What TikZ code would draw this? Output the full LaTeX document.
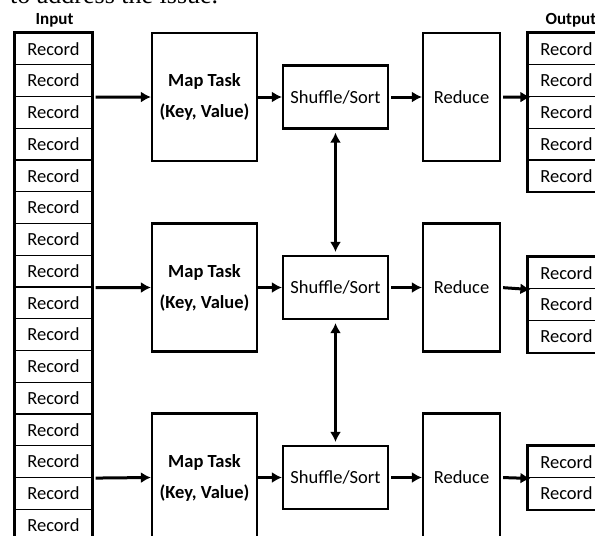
\documentclass[tikz,border=0pt]{standalone}
\usepackage{fontspec}
\setmainfont{Carlito}
\newfontfamily\pageserif{Liberation Serif}
\usepackage{tikz}
\usetikzlibrary{arrows.meta}
\usetikzlibrary{positioning}

\begin{document}
\begin{tikzpicture}[x=1pt,y=-1pt,>={Latex[length=10pt,width=11pt]},
	rec/.style={draw,line width=1.2pt,minimum width=77pt,minimum height=31.75pt,inner sep=0pt,font=\fontsize{18.5}{21}\selectfont},
	frame/.style={line width=2.2pt},
	box/.style={draw,line width=2.2pt,inner sep=0pt,align=center,font=\fontsize{18.5}{31}\selectfont},
	arr/.style={line width=3pt,->},
	varr/.style={line width=2.2pt,<->,shorten <=3pt,shorten >=3pt}]
		\useasboundingbox (0,0) rectangle (595,536);
		% page text cut by the screenshot
		\node[anchor=base west,inner sep=0pt,font=\pageserif\fontsize{26}{30}\selectfont] (pagetext) at (10,3) {to address the issue.};
		% input column
		\node[font=\bfseries\fontsize{17}{19}\selectfont] (inlabel) at (54.5,20) {Input};
		\foreach \i in {1,...,16}
			\node[rec] (in\i) at (53.5,{33+(\i-0.5)*31.75}) {Record};
		\draw[frame] (in1.north west) rectangle (in16.south east);
		% output columns
		\node[font=\bfseries\fontsize{17}{19}\selectfont,anchor=west] (outlabel) at (542,20) {Output};
		\foreach \g/\y/\n in {1/33/5,2/257/3,3/446/2}{
			\foreach \i in {1,...,\n}
				\node[rec] (out\g-\i) at (566.5,{\y+(\i-0.5)*31.75}) {Record};
			\draw[frame] (out\g-1.north west) rectangle (out\g-\n.south east);
		}
		% the three lanes
		\foreach \k/\y in {1/97,2/287.5,3/477.5}{
			\node[box,minimum width=105pt,minimum height=128pt] (map\k) at (204.5,\y) {\bfseries Map Task\\\bfseries (Key, Value)};
			\node[box,minimum width=105pt,minimum height=63pt] (shuf\k) at (335.5,\y) {Shuffle/Sort};
			\node[box,minimum width=77pt,minimum height=128pt] (red\k) at (461.5,\y) {Reduce};
			\draw[arr] (map\k.east)--(shuf\k.west);
			\draw[arr,shorten <=2pt] (shuf\k.east)--(red\k.west);
		}
		\foreach \k/\j in {1/2,2/8,3/14}
			\draw[arr,shorten <=3pt] (in\j.south east)--(map\k.west);
		\foreach \k/\j in {1/2,2/1,3/1}
			\draw[arr,shorten <=2pt,shorten >=-3pt] (red\k.east)--(out\k-\j.south west);
		\draw[varr] (shuf1.south)--(shuf2.north);
		\draw[varr] (shuf2.south)--(shuf3.north);
	\end{tikzpicture}
\end{document}
